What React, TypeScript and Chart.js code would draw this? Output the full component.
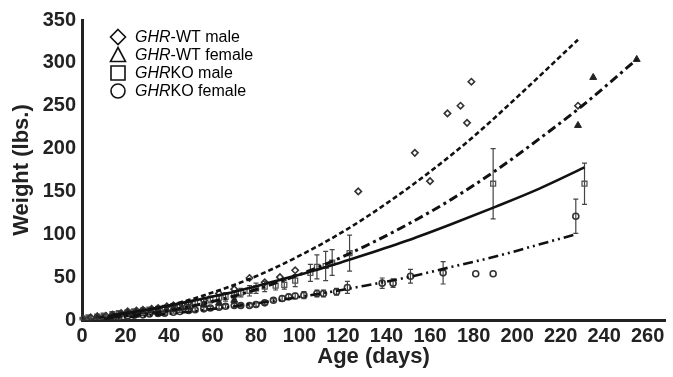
import { useEffect, useRef } from "react";
import { Chart, registerables } from "chart.js";

Chart.register(...registerables);

const FONT = "'Liberation Sans', Arial, Helvetica, sans-serif";

// Axis ticks
const xTicks = [0, 20, 40, 60, 80, 100, 120, 140, 160, 180, 200, 220, 240, 260];
const yTicks = [0, 50, 100, 150, 200, 250, 300, 350];

// Legend
const legendItalic = ["GHR", "GHR", "GHR", "GHR"];
const legendRest = ["-WT male", "-WT female", "KO male", "KO female"];

// GHR-WT male (diamonds)
const wtMaleDays = [0, 4, 7, 11, 14, 18, 21, 25, 28, 32, 35, 39, 42, 46, 49, 56, 63, 70, 77, 84, 91, 98, 127, 153, 160, 168, 174, 177, 179, 228];
const wtMaleWeights = [2, 3, 4, 5, 6, 8, 10, 11, 12, 13, 14, 16, 17, 18, 20, 23, 31, 36, 49, 44, 50, 58, 150, 195, 162, 241, 250, 230, 278, 250];

// GHR-WT female (triangles)
const wtFemaleDays = [0, 7, 14, 18, 21, 25, 28, 32, 35, 39, 42, 46, 49, 56, 63, 70, 228, 235, 255];
const wtFemaleWeights = [2, 4, 6, 7, 8, 9, 10, 11, 12, 12, 13, 14, 15, 18, 20, 23, 227, 283, 304];

// GHRKO male (squares, with error bars)
const koMaleDays = [0, 3, 7, 10, 14, 17, 21, 24, 28, 31, 35, 38, 42, 45, 49, 52, 56, 59, 63, 66, 70, 73, 77, 80, 84, 89, 93, 98, 105, 108, 112, 115, 123, 189, 231];
const koMaleWeights = [2, 3, 4, 5, 7, 8, 9, 10, 11, 12, 13, 14, 16, 17, 19, 20, 22, 24, 26, 27, 29, 32, 34, 37, 39, 40, 41, 46, 55, 62, 63, 67, 78, 159, 159];
const koMaleErrors = [1, 1, 1, 1, 2, 2, 2, 2, 2, 2, 2, 3, 3, 3, 3, 3, 3, 4, 4, 5, 5, 5, 6, 6, 6, 5, 5, 7, 10, 14, 17, 15, 21, 41, 24];

// GHRKO female (circles, with error bars)
const koFemaleDays = [0, 3, 7, 10, 14, 17, 21, 24, 28, 31, 35, 38, 42, 45, 49, 52, 56, 59, 63, 66, 70, 73, 77, 80, 84, 88, 92, 95, 98, 102, 108, 111, 117, 122, 138, 143, 151, 166, 181, 189, 227];
const koFemaleWeights = [1, 1.5, 2, 3, 3.5, 4, 5, 5.5, 6, 7, 7.5, 8, 9, 10, 11, 12, 13, 14, 15, 16, 17, 17, 17, 18, 20, 23, 25, 27, 28, 29, 31, 31, 33, 38, 43, 43, 51, 55, 54, 54, 121];
const koFemaleErrors = [1, 1, 1, 1, 1, 1, 1, 1, 1, 1, 1, 1, 1, 1, 2, 2, 2, 2, 2, 2, 2, 2, 2, 2, 2, 2, 3, 3, 3, 4, 4, 4, 4, 7, 6, 5, 8, 13, 0, 0, 20];

// Fitted curves
const wtMaleFitDays = [8, 20, 40, 60, 80, 100, 120, 140, 160, 180, 200, 228];
const wtMaleFitWeights = [3, 7, 17, 32, 51, 75, 103, 136, 173, 214, 260, 327];
const wtFemaleFitDays = [14, 30, 50, 70, 90, 110, 130, 150, 170, 190, 210, 230, 255];
const wtFemaleFitWeights = [4, 7, 16, 28, 44, 63, 86, 112, 141, 174, 211, 250, 304];
const koMaleFitDays = [14, 30, 50, 70, 90, 110, 130, 150, 170, 190, 210, 231];
const koMaleFitWeights = [6, 12, 22, 33, 46, 60, 76, 93, 112, 132, 153, 178];
const koFemaleFitDays = [10, 30, 50, 70, 90, 110, 130, 150, 170, 190, 210, 227];
const koFemaleFitWeights = [1.5, 5, 10, 16, 23, 31, 40, 50, 62, 74, 88, 100];

const pts = (xs: number[], ys: number[]) => xs.map((x, i) => ({ x, y: ys[i] }));

const errorSets = [
  { days: koMaleDays, weights: koMaleWeights, errs: koMaleErrors },
  { days: koFemaleDays, weights: koFemaleWeights, errs: koFemaleErrors },
];

const errorBarPlugin = {
  id: "errorBars",
  beforeDatasetsDraw(chart: any) {
    const { ctx, scales } = chart;
    const x = scales.x;
    const y = scales.y;
    ctx.save();
    ctx.strokeStyle = "#444";
    ctx.lineWidth = 1.2;
    errorSets.forEach(({ days, weights, errs }) => {
      days.forEach((d, i) => {
        const e = errs[i];
        if (!e) return;
        const px = x.getPixelForValue(d);
        const top = y.getPixelForValue(weights[i] + e);
        const bot = y.getPixelForValue(Math.max(0, weights[i] - e));
        ctx.beginPath();
        ctx.moveTo(px, top);
        ctx.lineTo(px, bot);
        ctx.moveTo(px - 2.5, top);
        ctx.lineTo(px + 2.5, top);
        ctx.moveTo(px - 2.5, bot);
        ctx.lineTo(px + 2.5, bot);
        ctx.stroke();
      });
    });
    ctx.restore();
  },
};

const legendPlugin = {
  id: "customLegend",
  afterDraw(chart: any) {
    const ctx = chart.ctx as CanvasRenderingContext2D;
    const mx = 118;
    const rows = [37, 55, 73, 91];
    ctx.save();
    ctx.strokeStyle = "#111";
    ctx.lineWidth = 1.6;
    rows.forEach((cy, i) => {
      ctx.beginPath();
      if (i === 0) {
        ctx.moveTo(mx, cy - 7.5);
        ctx.lineTo(mx + 7.5, cy);
        ctx.lineTo(mx, cy + 7.5);
        ctx.lineTo(mx - 7.5, cy);
        ctx.closePath();
      } else if (i === 1) {
        ctx.moveTo(mx, cy - 7.5);
        ctx.lineTo(mx + 7.5, cy + 6.5);
        ctx.lineTo(mx - 7.5, cy + 6.5);
        ctx.closePath();
      } else if (i === 2) {
        ctx.rect(mx - 7, cy - 7, 14, 14);
      } else {
        ctx.arc(mx, cy, 7, 0, Math.PI * 2);
      }
      ctx.stroke();
      ctx.fillStyle = "#000";
      ctx.textBaseline = "middle";
      ctx.font = `italic 16px ${FONT}`;
      ctx.fillText(legendItalic[i], 135, cy + 1);
      const w = ctx.measureText(legendItalic[i]).width;
      ctx.font = `16px ${FONT}`;
      ctx.fillText(legendRest[i], 135 + w, cy + 1);
    });
    ctx.restore();
  },
};

export default function App() {
  const ref = useRef<HTMLCanvasElement | null>(null);

  useEffect(() => {
    if (!ref.current) return;
    const lineCol = "#111";
    const markerCol = "#333";
    const chart = new Chart(ref.current, {
      type: "scatter",
      data: {
        datasets: [
          {
            label: "GHR-WT male fit",
            data: pts(wtMaleFitDays, wtMaleFitWeights),
            showLine: true,
            borderColor: lineCol,
            borderWidth: 2.6,
            borderDash: [5, 3],
            pointRadius: 0,
            cubicInterpolationMode: "monotone",
          },
          {
            label: "GHR-WT female fit",
            data: pts(wtFemaleFitDays, wtFemaleFitWeights),
            showLine: true,
            borderColor: lineCol,
            borderWidth: 3,
            borderDash: [9, 4, 3, 4],
            pointRadius: 0,
            cubicInterpolationMode: "monotone",
          },
          {
            label: "GHRKO male fit",
            data: pts(koMaleFitDays, koMaleFitWeights),
            showLine: true,
            borderColor: lineCol,
            borderWidth: 2.6,
            pointRadius: 0,
            cubicInterpolationMode: "monotone",
          },
          {
            label: "GHRKO female fit",
            data: pts(koFemaleFitDays, koFemaleFitWeights),
            showLine: true,
            borderColor: lineCol,
            borderWidth: 2.6,
            borderDash: [10, 4, 2, 4, 2, 4],
            pointRadius: 0,
            cubicInterpolationMode: "monotone",
          },
          {
            label: "GHR-WT male",
            data: pts(wtMaleDays, wtMaleWeights),
            pointStyle: "rectRot",
            pointRadius: 3.2,
            borderColor: markerCol,
            borderWidth: 1.6,
            backgroundColor: "rgba(255,255,255,0)",
          },
          {
            label: "GHR-WT female",
            data: pts(wtFemaleDays, wtFemaleWeights),
            pointStyle: "triangle",
            pointRadius: 4,
            borderColor: "#222",
            borderWidth: 1,
            backgroundColor: "#222",
          },
          {
            label: "GHRKO male",
            data: pts(koMaleDays, koMaleWeights),
            pointStyle: "rect",
            pointRadius: 3.5,
            borderColor: "#555",
            borderWidth: 1.3,
            backgroundColor: "rgba(255,255,255,0)",
          },
          {
            label: "GHRKO female",
            data: pts(koFemaleDays, koFemaleWeights),
            pointStyle: "circle",
            pointRadius: 3,
            borderColor: markerCol,
            borderWidth: 1.6,
            backgroundColor: "rgba(255,255,255,0)",
          },
        ],
      },
      options: {
        responsive: false,
        animation: false,
        devicePixelRatio: 1,
        layout: { padding: { top: 20, right: 8, left: 0, bottom: 0 } },
        plugins: {
          legend: { display: false },
          tooltip: { enabled: false },
        },
        scales: {
          x: {
            type: "linear",
            min: 0,
            max: 268,
            afterBuildTicks: (s: any) => {
              s.ticks = xTicks.map((v) => ({ value: v }));
            },
            afterFit: (s: any) => {
              s.height = 57;
            },
            grid: { display: false, drawTicks: false },
            border: { display: true, width: 3, color: "#222" },
            ticks: {
              font: { family: FONT, size: 20, weight: "bold" },
              color: "#222",
              padding: 4,
              maxRotation: 0,
              autoSkip: false,
            },
            title: {
              display: true,
              text: "Age (days)",
              font: { family: FONT, size: 22, weight: "bold" },
              color: "#222",
              padding: { top: 0, bottom: 7 },
            },
          },
          y: {
            type: "linear",
            min: 0,
            max: 350,
            afterBuildTicks: (s: any) => {
              s.ticks = yTicks.map((v) => ({ value: v }));
            },
            afterFit: (s: any) => {
              s.width = 82;
            },
            grid: { display: false, drawTicks: false },
            border: { display: true, width: 3, color: "#222" },
            ticks: {
              font: { family: FONT, size: 20, weight: "bold" },
              color: "#222",
              padding: 6,
            },
            title: {
              display: true,
              text: "Weight (lbs.)",
              font: { family: FONT, size: 22, weight: "bold" },
              color: "#222",
              padding: { top: 9, bottom: 0 },
            },
          },
        },
      } as any,
      plugins: [errorBarPlugin, legendPlugin],
    });
    return () => chart.destroy();
  }, []);

  return (
    <div style={{ position: "absolute", left: 0, top: 0, width: 673, height: 377, background: "#fff" }}>
      <canvas ref={ref} width={673} height={377} style={{ display: "block" }} />
    </div>
  );
}
